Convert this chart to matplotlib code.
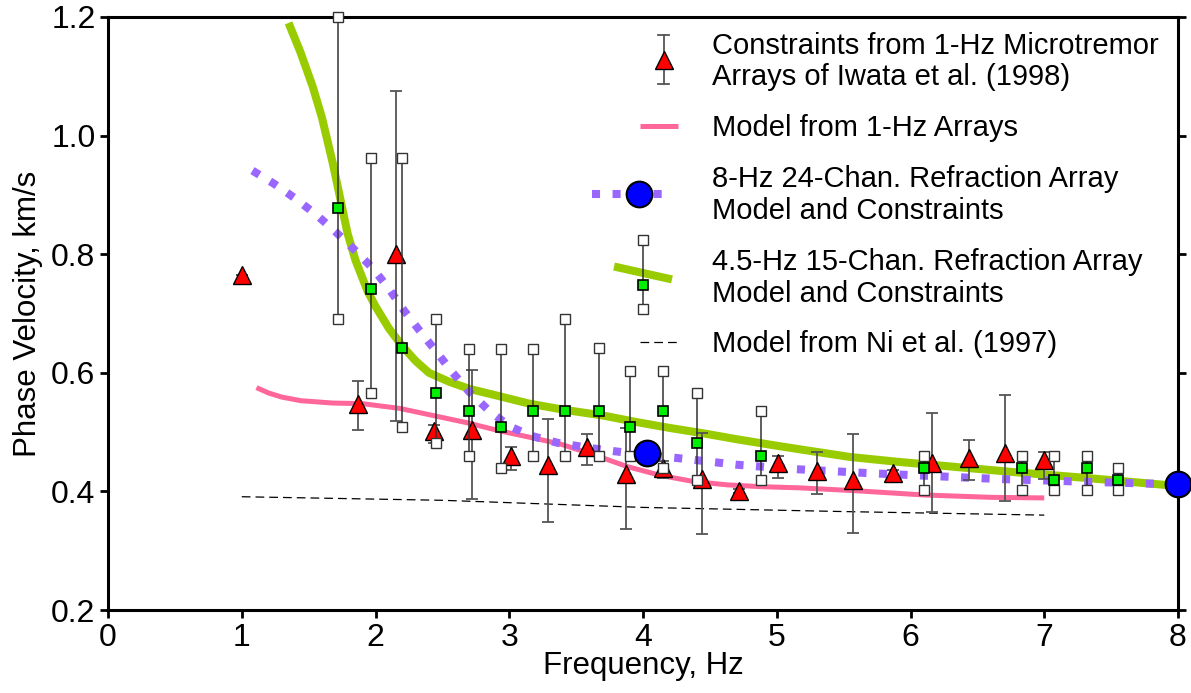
import numpy as np
import matplotlib
matplotlib.use("Agg")
import matplotlib.pyplot as plt
from matplotlib.lines import Line2D
from matplotlib.legend_handler import HandlerBase

plt.rcParams['font.family'] = ['Liberation Sans', 'DejaVu Sans']

# ---------------- data ----------------
# 1-Hz microtremor constraints (Iwata et al., 1998)
tri_f = [1.00, 1.87, 2.15, 2.44, 2.72, 3.01, 3.29, 3.58, 3.87, 4.15, 4.44, 4.72,
         5.01, 5.30, 5.57, 5.87, 6.16, 6.44, 6.71, 7.00]
tri_v = [0.765, 0.548, 0.800, 0.502, 0.504, 0.460, 0.444, 0.475, 0.430, 0.440, 0.421, 0.401,
         0.448, 0.435, 0.419, 0.431, 0.448, 0.456, 0.465, 0.453]
tri_lo = [0.765, 0.503, 0.519, 0.482, 0.388, 0.436, 0.348, 0.445, 0.337, 0.423, 0.328, 0.398,
          0.423, 0.396, 0.330, 0.416, 0.366, 0.419, 0.383, 0.421]
tri_hi = [0.765, 0.587, 1.076, 0.512, 0.605, 0.475, 0.522, 0.497, 0.507, 0.452, 0.499, 0.404,
          0.459, 0.467, 0.496, 0.436, 0.533, 0.486, 0.563, 0.467]

# Model from 1-Hz arrays
pink_f = [1.11, 1.20, 1.30, 1.44, 1.68, 1.90, 2.18, 2.43, 2.68, 2.93, 3.18, 3.38, 3.63, 3.88,
          4.13, 4.37, 4.63, 4.88, 5.17, 5.60, 6.10, 6.60, 7.00]
pink_v = [0.575, 0.566, 0.559, 0.553, 0.549, 0.548, 0.540, 0.528, 0.516, 0.502, 0.490, 0.480,
          0.462, 0.442, 0.427, 0.417, 0.411, 0.408, 0.406, 0.401, 0.394, 0.390, 0.389]

# 8-Hz 24-channel refraction array model and constraints
purp_f = [1.08, 1.24, 1.40, 1.555, 1.70, 1.84, 1.98, 2.10, 2.21, 2.33, 2.45, 2.57, 2.70,
          2.84, 3.00, 3.16, 3.36, 3.55, 3.74, 4.00, 4.31, 4.70, 5.10, 5.67, 6.15, 6.65,
          7.20, 7.81, 8.00]
purp_v = [0.941, 0.919, 0.894, 0.867, 0.838, 0.808, 0.776, 0.742, 0.706, 0.671, 0.637, 0.602,
          0.568, 0.538, 0.510, 0.494, 0.482, 0.475, 0.469, 0.462, 0.455, 0.445, 0.438, 0.431,
          0.426, 0.421, 0.417, 0.413, 0.412]
blue_f = [4.03, 8.00]
blue_v = [0.465, 0.413]

# 4.5-Hz 15-channel refraction array model and constraints
green_f = [1.35, 1.44, 1.53, 1.60, 1.68, 1.74, 1.79, 1.85, 1.94, 2.00, 2.10, 2.20, 2.30,
           2.40, 2.55, 2.70, 2.90, 3.15, 3.40, 3.70, 3.95, 4.20, 4.45, 4.70, 5.00, 5.20,
           5.55, 5.90, 6.30, 6.80, 7.30, 7.90, 8.00]
green_v = [1.190, 1.140, 1.083, 1.030, 0.954, 0.890, 0.836, 0.790, 0.738, 0.712, 0.675,
           0.645, 0.620, 0.600, 0.585, 0.573, 0.562, 0.548, 0.538, 0.528, 0.517, 0.507,
           0.498, 0.488, 0.477, 0.470, 0.458, 0.450, 0.442, 0.432, 0.423, 0.411, 0.409]
sq_f = [1.72, 1.97, 2.20, 2.45, 2.70, 2.94, 3.18, 3.42, 3.67, 3.90, 4.15, 4.40, 4.88,
        6.10, 6.83, 7.07, 7.32, 7.55]
sq_v = [0.878, 0.742, 0.641, 0.566, 0.536, 0.509, 0.536, 0.536, 0.536, 0.509, 0.536, 0.482,
        0.460, 0.440, 0.440, 0.419, 0.440, 0.419]
sq_lo = [0.691, 0.566, 0.509, 0.482, 0.460, 0.440, 0.460, 0.460, 0.460, 0.460, 0.440, 0.419,
         0.419, 0.403, 0.403, 0.403, 0.403, 0.403]
sq_hi = [1.200, 0.963, 0.963, 0.691, 0.640, 0.640, 0.640, 0.691, 0.642, 0.603, 0.603, 0.566,
         0.536, 0.460, 0.460, 0.460, 0.460, 0.440]

# Model from Ni et al. (1997)
ni_f = [1.0, 2.5, 4.0, 5.5, 7.0]
ni_v = [0.391, 0.385, 0.373, 0.366, 0.360]

x_ticks = [0, 1, 2, 3, 4, 5, 6, 7, 8]
y_ticks = [0.2, 0.4, 0.6, 0.8, 1.0, 1.2]
labels = ["Constraints from 1-Hz Microtremor\nArrays of Iwata et al. (1998)",
          "Model from 1-Hz Arrays",
          "8-Hz 24-Chan. Refraction Array\nModel and Constraints",
          "4.5-Hz 15-Chan. Refraction Array\nModel and Constraints",
          "Model from Ni et al. (1997)"]

# ---------------- styles ----------------
GREEN = '#99cc00'
PINK = '#ff6699'
PURPLE = '#9966ff'
BLUE = '#0000ff'
RED = '#ff0000'
LIME = '#00ee00'
EGRAY = '#555555'

fig = plt.figure(figsize=(11.91, 6.93), dpi=100)
ax = fig.add_axes([108 / 1191, 83 / 693, 1070 / 1191, 593 / 693])

ax.plot(green_f, green_v, color=GREEN, lw=5.8, solid_capstyle='butt', zorder=2)
ax.plot(pink_f, pink_v, color=PINK, lw=3.6, solid_capstyle='butt', zorder=2.1)
ax.plot(purp_f, purp_v, color=PURPLE, lw=5.8, linestyle=(0, (1.0, 1.55)),
        dash_capstyle='butt', zorder=2.2)
ax.plot(ni_f, ni_v, color='black', lw=0.9, linestyle=(0, (7, 4)), zorder=2.3)

tf = np.array(tri_f); tv = np.array(tri_v)
ax.errorbar(tf, tv, yerr=[tv - np.array(tri_lo), np.array(tri_hi) - tv], fmt='none',
            ecolor=EGRAY, elinewidth=1.3, capsize=4, capthick=1.3, zorder=3)
ax.plot(tf, tv, linestyle='none', marker='^', ms=13, mfc=RED, mec='black', mew=1.0, zorder=4)

ax.vlines(sq_f, sq_lo, sq_hi, color='#333333', lw=1.1, zorder=5)
ax.plot(sq_f, sq_lo, linestyle='none', marker='s', ms=6.5, mfc='white', mec='#333333',
        mew=1.0, zorder=5.5, clip_on=False)
ax.plot(sq_f, sq_hi, linestyle='none', marker='s', ms=6.5, mfc='white', mec='#333333',
        mew=1.0, zorder=5.5, clip_on=False)
ax.plot(sq_f, sq_v, linestyle='none', marker='s', ms=6.5, mfc=LIME, mec='black', mew=1.2, zorder=6)

ax.plot(blue_f, blue_v, linestyle='none', marker='o', ms=18.5, mfc=BLUE, mec='black',
        mew=1.5, zorder=7, clip_on=False)

ax.set_xlim(0, 8)
ax.set_ylim(0.2, 1.2)
ax.set_xticks(x_ticks)
ax.set_xticklabels([str(t) for t in x_ticks])
ax.set_yticks(y_ticks)
ax.set_yticklabels([f"{t:.1f}" for t in y_ticks])
for s in ax.spines.values():
    s.set_linewidth(2.2)
ax.tick_params(direction='out', length=6, width=2.0, labelsize=23, pad=3)
ax.tick_params(axis='y', right=True, left=True)
ax.set_xlabel("Frequency, Hz", fontsize=22.5, labelpad=-1)
ax.set_ylabel("Phase Velocity, km/s", fontsize=22.5, labelpad=6)


# ---------------- legend handlers ----------------
class HTri(HandlerBase):
    def create_artists(self, legend, orig, xd, yd, w, h, fs, trans):
        cy = (h - yd) / 2 + 2
        x = -xd + 53
        arts = [Line2D([x, x], [cy - 17.6, cy + 17.6], color=EGRAY, lw=1.3),
                Line2D([x - 3.8, x + 3.8], [cy + 17.6, cy + 17.6], color=EGRAY, lw=1.3),
                Line2D([x - 3.8, x + 3.8], [cy - 17.6, cy - 17.6], color=EGRAY, lw=1.3),
                Line2D([x], [cy], marker='^', ms=13, mfc=RED, mec='black', mew=1.0)]
        for a in arts:
            a.set_transform(trans)
        return arts


class HPink(HandlerBase):
    def create_artists(self, legend, orig, xd, yd, w, h, fs, trans):
        cy = (h - yd) / 2
        a = Line2D([-xd + 36, -xd + 63.4], [cy, cy], color=PINK, lw=3.6, solid_capstyle='butt')
        a.set_transform(trans)
        return [a]


class HPurp(HandlerBase):
    def create_artists(self, legend, orig, xd, yd, w, h, fs, trans):
        cy = (h - yd) / 2 + 1
        a = Line2D([-xd + 1.4, -xd + 55.5], [cy, cy], color=PURPLE, lw=5.8,
                   linestyle=(0, (1.0, 1.55)), dash_capstyle='butt')
        b = Line2D([-xd + 35], [cy], marker='o', ms=18.5, mfc=BLUE, mec='black', mew=1.5)
        for o in (a, b):
            o.set_transform(trans)
        return [a, b]


class HGreen(HandlerBase):
    def create_artists(self, legend, orig, xd, yd, w, h, fs, trans):
        cy = (h - yd) / 2
        x = -xd + 38
        arts = [Line2D([-xd + 17.3, -xd + 59], [cy + 8.6, cy - 0.7], color=GREEN, lw=5.8,
                       solid_capstyle='butt'),
                Line2D([x, x], [cy - 22, cy + 28], color='#333333', lw=1.1),
                Line2D([x], [cy - 22], marker='s', ms=6.5, mfc='white', mec='#333333', mew=1.0),
                Line2D([x], [cy + 28], marker='s', ms=6.5, mfc='white', mec='#333333', mew=1.0),
                Line2D([x], [cy - 5], marker='s', ms=6.5, mfc=LIME, mec='black', mew=1.2)]
        for a in arts:
            a.set_transform(trans)
        return arts


class HNi(HandlerBase):
    def create_artists(self, legend, orig, xd, yd, w, h, fs, trans):
        cy = (h - yd) / 2
        a = Line2D([-xd + 36, -xd + 63.4], [cy, cy], color='black', lw=0.9,
                   linestyle=(0, (7, 4)))
        a.set_transform(trans)
        return [a]


hs = [Line2D([], []) for _ in range(5)]
hmap = {hs[0]: HTri(), hs[1]: HPink(), hs[2]: HPurp(), hs[3]: HGreen(), hs[4]: HNi()}
FS = 21
leg = ax.legend(hs, labels, handler_map=hmap, loc='upper left',
                bbox_to_anchor=(0.4505, 0.9755), frameon=False, fontsize=FS,
                handlelength=63.4 / FS, handletextpad=24.5 / FS, labelspacing=0.78,
                borderpad=0, borderaxespad=0)
for t in leg.get_texts():
    t.set_linespacing(1.18)
leg.set_zorder(10)

fig.savefig("out.png", dpi=100)
